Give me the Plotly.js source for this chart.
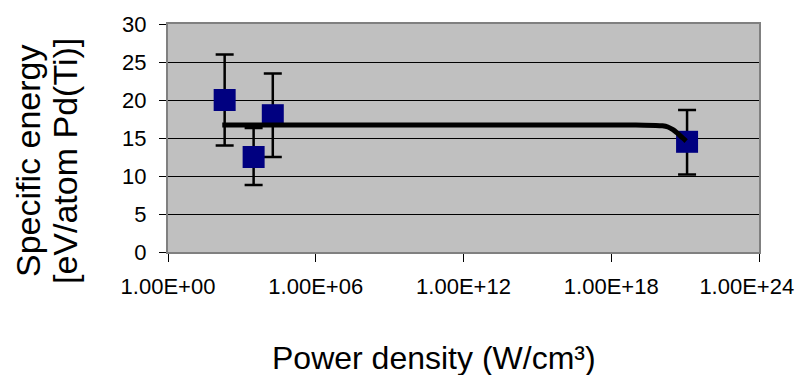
<!DOCTYPE html>
<html>
<head>
<meta charset="utf-8">
<script src="https://cdn.plot.ly/plotly-3.0.1.min.js"></script>
<style>html,body{margin:0;padding:0;background:#fff;}#chart{width:799px;height:375px;}</style>
</head>
<body>
<div id="chart"></div>
<script>
// Measured data points
const powerDensity = [200, 3000, 18000, 1.2e21];
const specificEnergy = [20, 12.5, 18, 14.5];
const errPlus = [6, 3.8, 5.5, 4.2];
const errMinus = [6, 3.7, 5.5, 4.3];

// Fitted curve
const fitX = [160, 1e19, 1.2e20, 2e20, 3.2e20, 5e20, 8e20, 1.1e21];
const fitY = [16.7, 16.7, 16.6, 16.45, 16.1, 15.6, 15.0, 14.6];

// Axis ticks (last label padded with no-break spaces so it sits inside the page, as in the original)
const xTickVals = [1, 1e6, 1e12, 1e18, 1e24];
const xTickText = ['1.00E+00', '1.00E+06', '1.00E+12', '1.00E+18', '1.00E+24\u00A0\u00A0\u00A0\u00A0'];

// Titles
const yTitleLines = ['Specific energy', '[eV/atom Pd(Ti)]'];
const xTitle = 'Power density (W/cm\u00B3)';

const font = 'Liberation Sans, Arial, sans-serif';

const traces = [
  {
    x: powerDensity, y: specificEnergy, type: 'scatter', mode: 'markers',
    marker: {symbol: 'square', size: 22, color: '#000080'},
    error_y: {type: 'data', symmetric: false, array: errPlus, arrayminus: errMinus,
      color: '#000000', thickness: 2.5, width: 9},
    showlegend: false, hoverinfo: 'skip'
  },
  {
    x: fitX, y: fitY, type: 'scatter', mode: 'lines',
    line: {color: '#000000', width: 5, shape: 'spline'},
    showlegend: false, hoverinfo: 'skip'
  }
];

const layout = {
  width: 799, height: 375,
  margin: {l: 168, r: 40, t: 24, b: 123},
  paper_bgcolor: '#ffffff',
  plot_bgcolor: '#c0c0c0',
  font: {family: font, color: '#000000'},
  xaxis: {
    type: 'log', range: [0, 24],
    tickvals: xTickVals, ticktext: xTickText,
    ticks: 'outside', ticklen: 8, tickwidth: 1, tickcolor: '#000',
    tickfont: {size: 22, family: font},
    ticklabelstandoff: 6,
    ticklabeloverflow: 'allow',
    showgrid: false, zeroline: false,
    showline: true, linecolor: '#808080', linewidth: 2, mirror: true
  },
  yaxis: {
    range: [0, 30], dtick: 5, tick0: 0,
    ticks: 'outside', ticklen: 7, tickwidth: 1, tickcolor: '#000',
    tickfont: {size: 22, family: font},
    ticklabelstandoff: 8,
    showgrid: true, gridcolor: '#000000', gridwidth: 1,
    zeroline: false,
    showline: true, linecolor: '#808080', linewidth: 2, mirror: true
  },
  annotations: [
    {
      text: yTitleLines[0],
      xref: 'paper', yref: 'paper', x: -0.2369, y: 0.399,
      xanchor: 'center', yanchor: 'middle', textangle: -90,
      showarrow: false, font: {size: 34, family: font}
    },
    {
      text: yTitleLines[1],
      xref: 'paper', yref: 'paper', x: -0.1743, y: 0.399,
      xanchor: 'center', yanchor: 'middle', textangle: -90,
      showarrow: false, font: {size: 34, family: font}
    },
    {
      text: xTitle,
      xref: 'paper', yref: 'paper', x: 0.45, y: -0.465,
      xanchor: 'center', yanchor: 'middle',
      showarrow: false, font: {size: 32, family: font}
    }
  ]
};

Plotly.newPlot('chart', traces, layout, {staticPlot: true, displayModeBar: false});
</script>
</body>
</html>
